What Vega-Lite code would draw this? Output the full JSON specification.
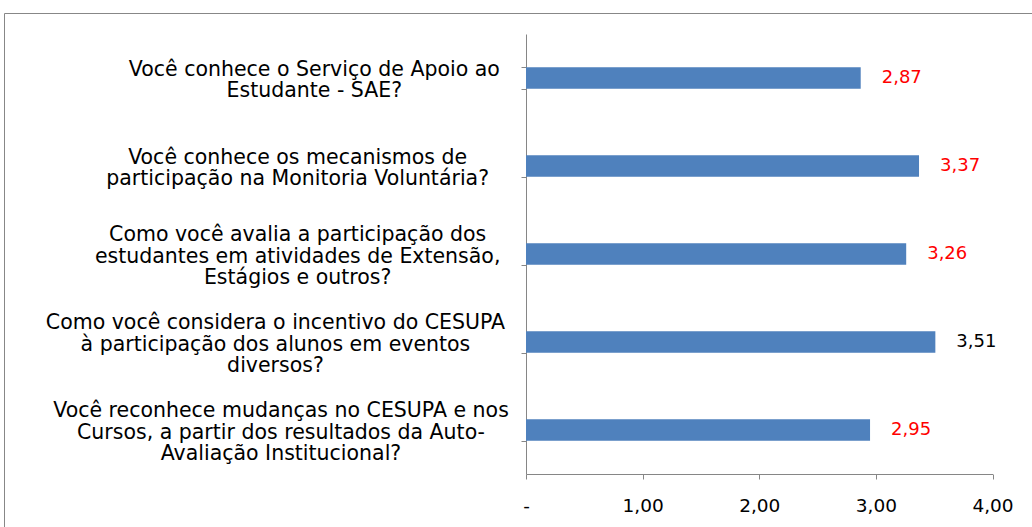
{
  "$schema": "https://vega.github.io/schema/vega-lite/v6.json",
  "autosize": {"type": "none"},
  "padding": {"left": 4, "top": 13, "right": 0, "bottom": 0},
  "width": 1030,
  "height": 516,
  "background": "white",
  "config": {
    "font": "DejaVu Sans",
    "view": {"stroke": "#878787", "strokeWidth": 1},
    "locale": {"number": {"decimal": ",", "thousands": ".", "grouping": [3], "currency": ["", ""]}}
  },
  "data": {
    "values": [
      {"q": "Você conhece o Serviço de Apoio ao|Estudante - SAE?", "v": 2.87},
      {"q": "Você conhece os mecanismos de|participação na Monitoria Voluntária?", "v": 3.37},
      {"q": "Como você avalia a participação dos|estudantes em atividades de Extensão,|Estágios e outros?", "v": 3.26},
      {"q": "Como você considera o incentivo do CESUPA|à participação dos alunos em eventos|diversos?", "v": 3.51},
      {"q": "Você reconhece mudanças no CESUPA e nos|Cursos, a partir dos resultados da Auto-|Avaliação Institucional?", "v": 2.95}
    ]
  },
  "encoding": {
    "y": {
      "field": "q",
      "type": "nominal",
      "sort": null,
      "scale": {"range": [21, 461], "paddingInner": 0.753, "paddingOuter": 0.3765},
      "axis": {
        "title": null,
        "orient": "left",
        "offset": -522,
        "tickBand": "extent",
        "tickSize": 5,
        "tickColor": "#868686",
        "domainColor": "#868686",
        "labels": false
      }
    }
  },
  "layer": [
    {
      "mark": {"type": "bar", "color": "#4F81BD"},
      "encoding": {
        "x": {
          "field": "v",
          "type": "quantitative",
          "scale": {"domain": [0, 4], "range": [522, 988.5], "nice": false},
          "axis": {
            "title": null,
            "orient": "bottom",
            "offset": -55,
            "values": [0, 1, 2, 3, 4],
            "format": ".2f",
            "labelExpr": "datum.value == 0 ? '-' : datum.label",
            "grid": false,
            "tickSize": 5,
            "tickColor": "#868686",
            "domainColor": "#868686",
            "labelFontSize": 18.5,
            "labelColor": "black",
            "labelPadding": 17,
            "labelFlush": false,
            "labelOverlap": false
          }
        }
      }
    },
    {
      "mark": {"type": "text", "align": "left", "baseline": "middle", "dx": 21, "fontSize": 18},
      "encoding": {
        "x": {"field": "v", "type": "quantitative"},
        "text": {"field": "v", "type": "quantitative", "format": ".2f"},
        "color": {"condition": {"test": "datum.v >= 3.5", "value": "black"}, "value": "#FF0000"}
      }
    },
    {
      "mark": {
        "type": "text",
        "align": "center",
        "baseline": "middle",
        "fontSize": 20.5,
        "lineHeight": 21.5,
        "color": "black",
        "text": {"expr": "split(datum.q, '|')"},
        "dx": {"expr": "-23 - 5.55 * max(length(split(datum.q,'|')[0]), length(split(datum.q,'|')[1] || ''), length(split(datum.q,'|')[2] || ''))"},
        "dy": {"expr": "2.5 - 10.75 * (length(split(datum.q,'|')) - 1)"}
      },
      "encoding": {
        "x": {"datum": 0, "type": "quantitative"}
      }
    }
  ]
}
